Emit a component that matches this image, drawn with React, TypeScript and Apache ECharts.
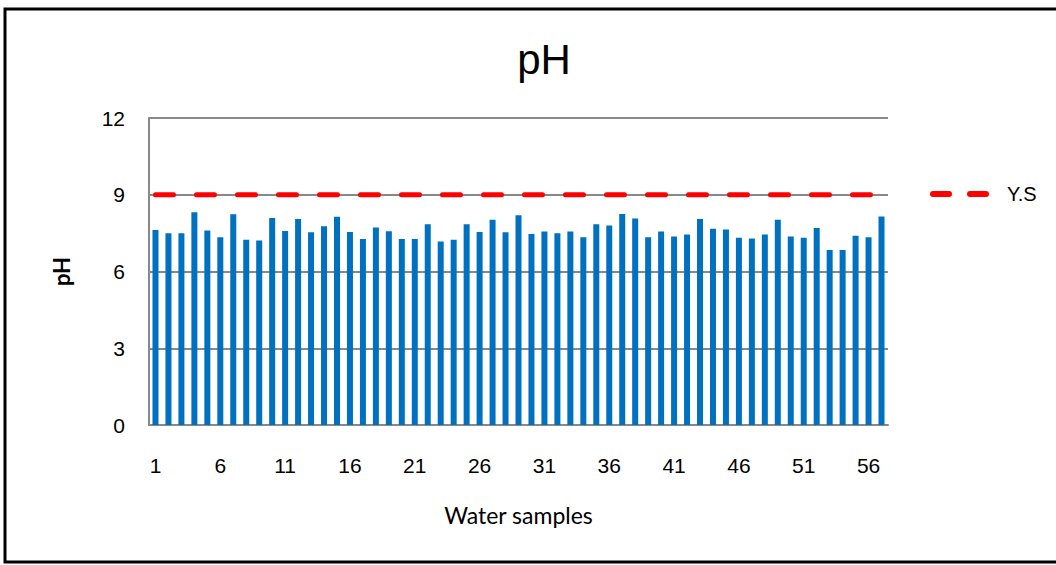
import React, { useEffect, useRef } from "react";
import * as echarts from "echarts";

const categories: string[] = [
  "1","2","3","4","5","6","7","8","9","10","11","12","13","14","15","16","17","18","19","20",
  "21","22","23","24","25","26","27","28","29","30","31","32","33","34","35","36","37","38","39","40",
  "41","42","43","44","45","46","47","48","49","50","51","52","53","54","55","56","57",
];

const phValues: number[] = [
  7.62, 7.5, 7.5, 8.32, 7.6, 7.34, 8.24, 7.24, 7.21, 8.09,
  7.58, 8.05, 7.53, 7.77, 8.14, 7.54, 7.27, 7.72, 7.57, 7.27,
  7.27, 7.85, 7.17, 7.24, 7.85, 7.54, 8.02, 7.53, 8.2, 7.47,
  7.56, 7.5, 7.56, 7.34, 7.85, 7.8, 8.25, 8.07, 7.34, 7.56,
  7.37, 7.45, 8.05, 7.67, 7.64, 7.32, 7.29, 7.45, 8.02, 7.37,
  7.32, 7.7, 6.84, 6.84, 7.4, 7.34, 8.15,
];

const ysLimit = 9;
const yTicks = { min: 0, max: 12, interval: 3 };

const NARROW = '"Liberation Sans Narrow", "Arial Narrow", "Liberation Sans", sans-serif';
const CAL = 'Lato, "Open Sans", sans-serif';

export default function App() {
  const ref = useRef<HTMLDivElement>(null);
  useEffect(() => {
    if (!ref.current) return;
    const chart = echarts.init(ref.current, null, { renderer: "svg" });
    chart.setOption({
      animation: false,
      backgroundColor: "#ffffff",
      title: {
        text: "pH",
        left: 539,
        top: 33,
        textAlign: "center",
        textStyle: { fontFamily: NARROW, fontSize: 42, fontWeight: "normal", color: "#000" },
      },
      graphic: [
        {
          type: "rect",
          shape: { x: 5, y: 9, width: 1060, height: 553 },
          style: { fill: "none", stroke: "#000", lineWidth: 3 },
          z: 100,
        },
      ],
      legend: {
        left: 925,
        top: 179,
        itemWidth: 72,
        itemHeight: 6,
        itemGap: 10,
        textStyle: { fontFamily: NARROW, fontSize: 20, color: "#000" },
        data: [
          {
            name: "Y.S",
            icon: "path://M2,0 L18,0 Q21,0 21,3 Q21,6 18,6 L2,6 Q-1,6 -1,3 Q-1,0 2,0 Z M39,0 L55,0 Q58,0 58,3 Q58,6 55,6 L39,6 Q36,6 36,3 Q36,0 39,0 Z M70.99,3 L71,3 L71,3.001 Z",
          },
        ],
        itemStyle: { color: "#FF0000" },
      },
      grid: { left: 149, right: 168, top: 118, bottom: 140 },
      xAxis: {
        type: "category",
        data: categories,
        name: "Water samples",
        nameLocation: "middle",
        nameGap: 78,
        nameTextStyle: { fontFamily: CAL, fontSize: 23, color: "#000" },
        axisLine: { lineStyle: { color: "#888", width: 2 } },
        axisTick: { show: false },
        axisLabel: {
          interval: 4,
          margin: 30,
          fontFamily: NARROW,
          fontSize: 21,
          color: "#000",
        },
      },
      yAxis: {
        type: "value",
        min: yTicks.min,
        max: yTicks.max,
        interval: yTicks.interval,
        name: "pH",
        nameLocation: "middle",
        nameGap: 77,
        nameRotate: 90,
        nameTextStyle: { fontFamily: CAL, fontSize: 22, color: "#000", fontWeight: "bold" },
        axisLine: { show: true, lineStyle: { color: "#888", width: 2 } },
        axisTick: { show: false },
        splitLine: { lineStyle: { color: "#888", width: 2 } },
        axisLabel: { margin: 24, fontFamily: NARROW, fontSize: 21, color: "#000" },
      },
      series: [
        {
          name: "pH",
          type: "bar",
          data: phValues,
          barWidth: 6,
          itemStyle: { color: "#0070C0" },
        },
        {
          name: "Y.S",
          type: "line",
          data: categories.map(() => ysLimit),
          symbol: "none",
          lineStyle: { color: "#FF0000", width: 5, type: [18, 23], cap: "round" },
          itemStyle: { color: "#FF0000" },
          z: 5,
        },
      ],
    });
    return () => chart.dispose();
  }, []);
  return <div ref={ref} style={{ position: "fixed", left: 0, top: 0, width: 1056, height: 565 }} />;
}
